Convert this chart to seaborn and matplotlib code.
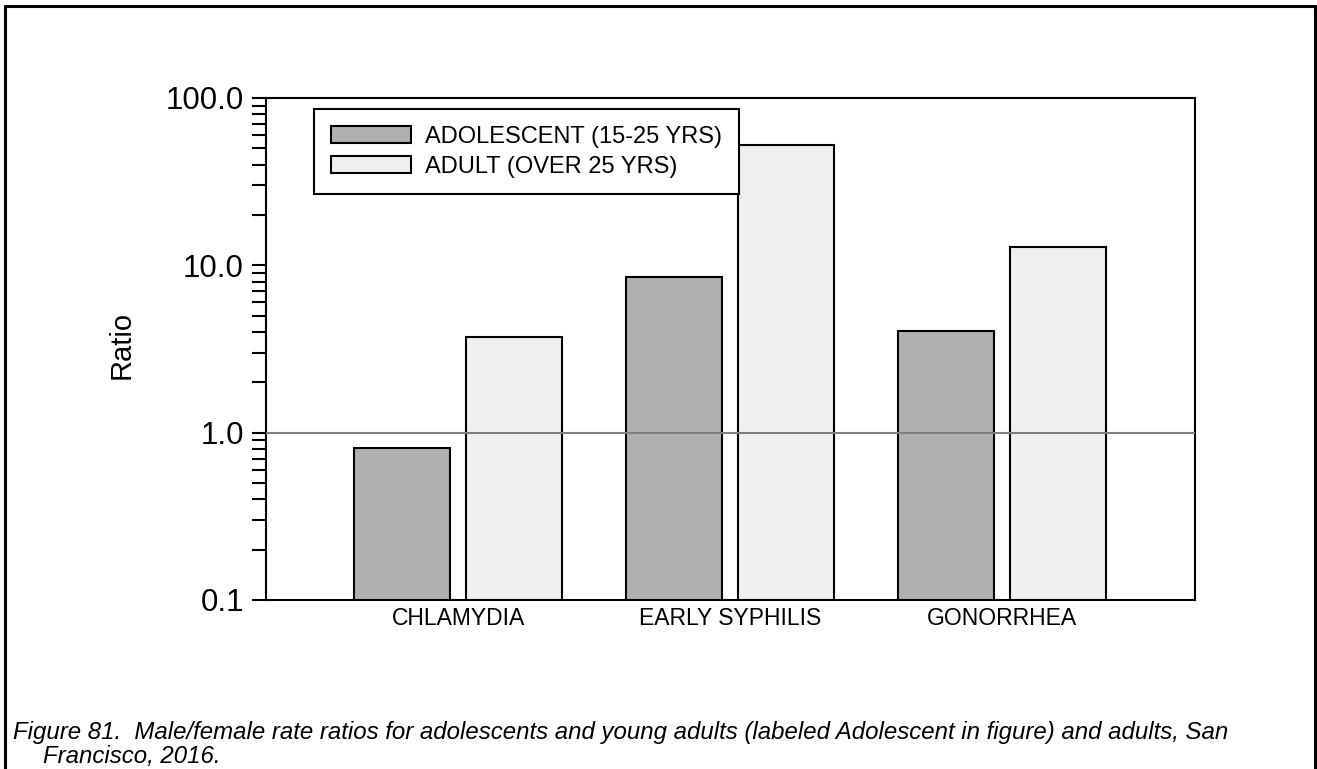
import matplotlib
matplotlib.use("Agg")
import matplotlib.pyplot as plt
import matplotlib.patches as mpatches
from matplotlib.ticker import LogLocator, FixedLocator, NullFormatter
from matplotlib.lines import Line2D
import seaborn as sns
import pandas as pd

categories = ["CHLAMYDIA", "EARLY SYPHILIS", "GONORRHEA"]
groups = ["ADOLESCENT (15-25 YRS)", "ADULT (OVER 25 YRS)"]
adolescent = [0.81, 8.5, 4.05]
adult = [3.73, 52.0, 12.9]
colors = ["#b0b0b0", "#efefef"]
ytick_vals = [0.1, 1.0, 10.0, 100.0]
ytick_labels = ["0.1", "1.0", "10.0", "100.0"]
caption1 = "Figure 81.  Male/female rate ratios for adolescents and young adults (labeled Adolescent in figure) and adults, San"
caption2 = "Francisco, 2016."

sns.set_theme(style="white")
plt.rcParams["font.family"] = ["Liberation Sans", "DejaVu Sans"]
plt.rcParams["text.color"] = "black"
plt.rcParams["axes.labelcolor"] = "black"
plt.rcParams["xtick.color"] = "black"
plt.rcParams["ytick.color"] = "black"

df = pd.DataFrame({
    "category": categories * 2,
    "group": [groups[0]] * 3 + [groups[1]] * 3,
    "ratio": adolescent + adult,
})

fig = plt.figure(figsize=(13.17, 7.69), dpi=100)
ax = fig.add_axes([0.2020, 0.2198, 0.7054, 0.6528])

sns.barplot(data=df, x="category", y="ratio", hue="group", order=categories,
            hue_order=groups, palette=colors, width=0.824, gap=0.143,
            edgecolor="black", linewidth=1.5, ax=ax, legend=False, log_scale=(False, True))

ax.set_yscale("log")
ax.set_ylim(0.1, 100)
ax.set_xlim(-0.706, 2.71)
ax.axhline(1.0, color="#808080", lw=1.5, zorder=5)

ax.yaxis.set_major_locator(FixedLocator(ytick_vals))
ax.set_yticklabels(ytick_labels, fontsize=22.5)
ax.yaxis.set_minor_locator(LogLocator(base=10, subs=range(2, 10)))
ax.yaxis.set_minor_formatter(NullFormatter())
ax.tick_params(axis="y", which="both", direction="out", length=10, width=1.5,
               left=True, color="black", pad=6)
ax.tick_params(axis="x", length=0, labelsize=16.5, pad=5)
ax.set_xlabel("")
ax.set_ylabel("")
fig.text(122 / 1317, 1 - 345 / 769, "Ratio", fontsize=21, rotation=90, ha="center", va="center")
for s in ax.spines.values():
    s.set_visible(True)
    s.set_color("black")
    s.set_linewidth(1.5)
ax.grid(False)

handles = [mpatches.Patch(facecolor=c, edgecolor="black", linewidth=1.5) for c in colors]
leg = fig.legend(handles, groups, loc="upper left",
                 bbox_to_anchor=(314 / 1317, 1 - 109 / 769), fontsize=17,
                 frameon=True, fancybox=False, handlelength=3.4, handleheight=0.7,
                 handletextpad=0.6, labelspacing=0.35, borderpad=0.7, borderaxespad=0)
leg.get_frame().set_edgecolor("black")
leg.get_frame().set_linewidth(1.5)
leg.get_frame().set_alpha(1)

fig.text(13 / 1317, 1 - 733 / 769, caption1, fontsize=17.3, style="italic", va="center", ha="left")
fig.text(43 / 1317, 1 - 757 / 769, caption2, fontsize=17.3, style="italic", va="center", ha="left")

# figure border: top, left, right
x0, x1, yt = 5 / 1317, 1315 / 1317, 1 - 6 / 769
for xs, ys in [([x0, x1], [yt, yt]), ([x0, x0], [0, yt]), ([x1, x1], [0, yt])]:
    fig.add_artist(Line2D(xs, ys, color="black", lw=2.2, transform=fig.transFigure))

fig.savefig("out.png", dpi=100)
